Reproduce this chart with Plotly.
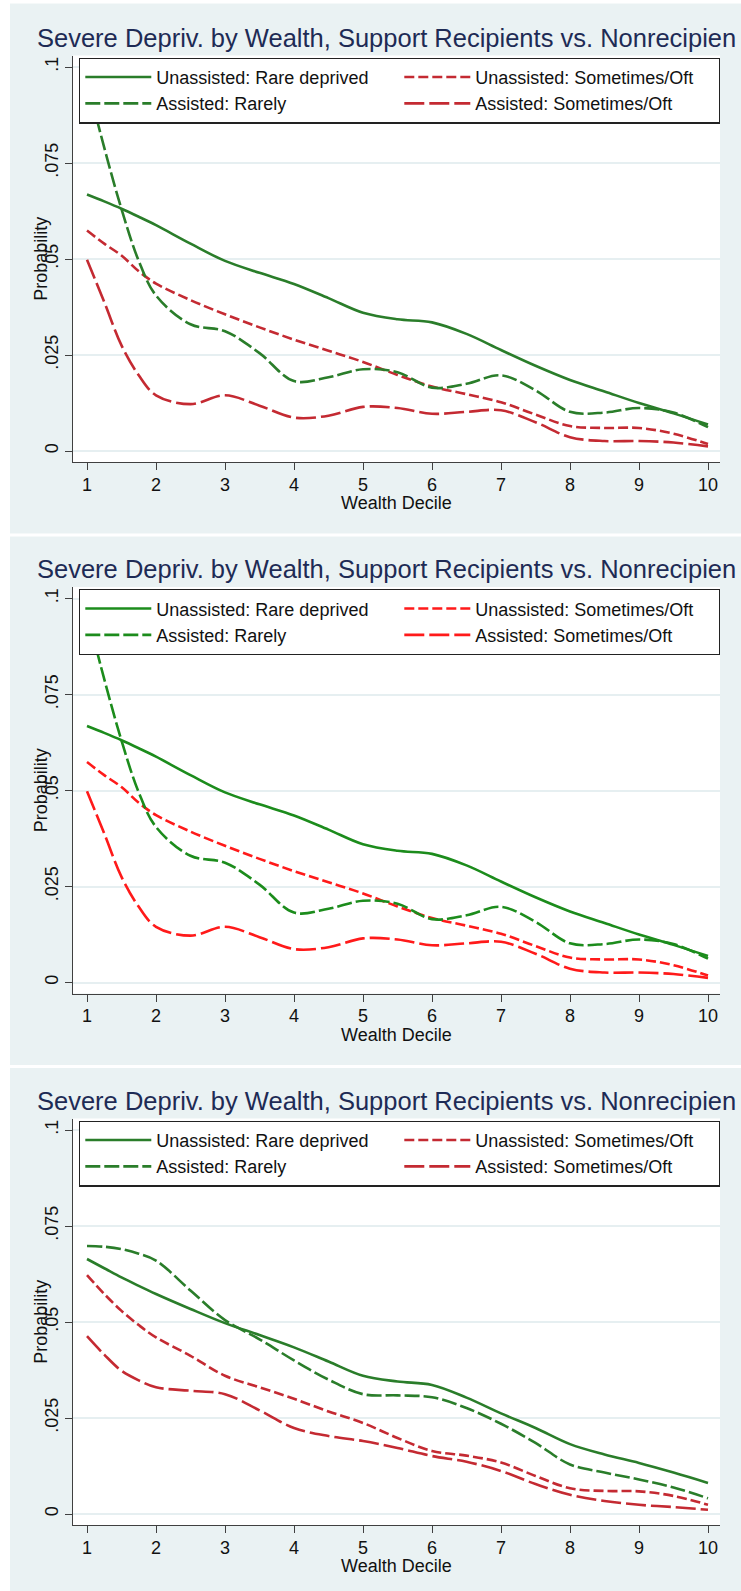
import plotly.graph_objects as go

W, H = 741, 1591

# ---------------- data ----------------
deciles = [1, 1.25, 1.5, 1.75, 2, 2.5, 3, 3.5, 4, 4.5, 5, 5.5, 6, 6.5, 7, 7.5, 8, 8.5, 9, 9.5, 10]
x_ticks = [1, 2, 3, 4, 5, 6, 7, 8, 9, 10]
y_ticks = [0, 0.025, 0.05, 0.075, 0.1]
y_tick_labels = ["0", ".025", ".05", ".075", ".1"]

series_names = ["Unassisted: Rare deprived", "Unassisted: Sometimes/Oft",
                "Assisted: Rarely", "Assisted: Sometimes/Oft"]

# panels 1 and 2 (same estimates)
p12_unassisted_rare = [0.0668, 0.0650, 0.0631, 0.0610, 0.0588, 0.0540, 0.0495, 0.0464, 0.0435, 0.0398,
                       0.0360, 0.0343, 0.0335, 0.0305, 0.0263, 0.0222, 0.0185, 0.0155, 0.0125, 0.0098, 0.0069]
p12_unassisted_some = [0.0574, 0.0540, 0.0509, 0.0468, 0.0436, 0.0393, 0.0356, 0.0322, 0.0290, 0.0261,
                       0.0232, 0.0198, 0.0168, 0.0148, 0.0127, 0.0095, 0.0065, 0.0060, 0.0060, 0.0045, 0.0018]
p12_assisted_rare = [0.0965, 0.0790, 0.0630, 0.0495, 0.0405, 0.0330, 0.0312, 0.0255, 0.0182, 0.0192,
                     0.0213, 0.0205, 0.0165, 0.0175, 0.0197, 0.0158, 0.0102, 0.0100, 0.0112, 0.0100, 0.0062]
p12_assisted_some = [0.0498, 0.0388, 0.0275, 0.0197, 0.0145, 0.0122, 0.0145, 0.0118, 0.0087, 0.0092,
                     0.0115, 0.0112, 0.0097, 0.0102, 0.0106, 0.0075, 0.0036, 0.0026, 0.0026, 0.0022, 0.0012]

# panel 3
p3_unassisted_rare = [0.0664, 0.0640, 0.0616, 0.0594, 0.0573, 0.0534, 0.0497, 0.0466, 0.0434, 0.0397,
                      0.0360, 0.0345, 0.0336, 0.0303, 0.0262, 0.0224, 0.0182, 0.0155, 0.0133, 0.0108, 0.0081]
p3_unassisted_some = [0.0622, 0.0573, 0.0529, 0.0492, 0.0460, 0.0412, 0.0360, 0.0330, 0.0300, 0.0267,
                      0.0237, 0.0198, 0.0164, 0.0152, 0.0134, 0.0099, 0.0067, 0.0060, 0.0059, 0.0047, 0.0024]
p3_assisted_rare = [0.0698, 0.0696, 0.0690, 0.0678, 0.0660, 0.0582, 0.0505, 0.0455, 0.0400, 0.0350,
                    0.0312, 0.0309, 0.0304, 0.0276, 0.0235, 0.0185, 0.0129, 0.0108, 0.0090, 0.0069, 0.0041]
p3_assisted_some = [0.0463, 0.0415, 0.0373, 0.0348, 0.0330, 0.0321, 0.0312, 0.0270, 0.0224, 0.0203,
                    0.0190, 0.0172, 0.0151, 0.0136, 0.0112, 0.0078, 0.0050, 0.0034, 0.0024, 0.0018, 0.0011]

title_text = "Severe Depriv. by Wealth, Support Recipients vs. Nonrecipien"
x_title = "Wealth Decile"
y_title = "Probability"

# ---------------- styling ----------------
FONT = "Liberation Sans, Arial, sans-serif"
BG = "#EAF2F3"
TITLE_COLOR = "#1E2B55"
palettes = [
    ("#2A7D2A", "#C42A32"),
    ("#1C8C1C", "#FF1A1A"),
    ("#2A7D2A", "#C42A32"),
]
panel_data = [
    (p12_unassisted_rare, p12_unassisted_some, p12_assisted_rare, p12_assisted_some),
    (p12_unassisted_rare, p12_unassisted_some, p12_assisted_rare, p12_assisted_some),
    (p3_unassisted_rare, p3_unassisted_some, p3_assisted_rare, p3_assisted_some),
]
dashes = ["solid", "10px,4px", "15px,4px", "20px,5px"]

OFFSET = 531.5          # vertical pixel offset between panels
PLOT_L, PLOT_R = 73, 720
TOP0, BOT0 = 55.5, 462  # panel 1 plot area (pixels from top)
ZERO0 = 451             # pixel of y=0 in panel 1
PX_PER_UNIT = 3840.0

def fy(px):
    return 1 - px / H

fig = go.Figure()
annotations = []
shapes = []
layout = {}

for p in range(3):
    off = p * OFFSET
    green, red = palettes[p]
    colors = [green, red, green, red]
    xa = "x" if p == 0 else f"x{p+1}"
    ya = "y" if p == 0 else f"y{p+1}"
    lg = "legend" if p == 0 else f"legend{p+1}"
    for s in range(4):
        fig.add_trace(go.Scatter(
            x=deciles, y=panel_data[p][s], mode="lines", name=series_names[s],
            line=dict(color=colors[s], width=2.6, dash=dashes[s], shape="spline", smoothing=1.0),
            xaxis=xa, yaxis=ya, legend=lg, hoverinfo="skip"))

    top, bot = TOP0 + off, BOT0 + off
    zero = ZERO0 + off
    y_lo = -(bot - zero) / PX_PER_UNIT
    y_hi = (zero - top) / PX_PER_UNIT
    kx = "xaxis" if p == 0 else f"xaxis{p+1}"
    ky = "yaxis" if p == 0 else f"yaxis{p+1}"
    layout[kx] = dict(domain=[PLOT_L / W, PLOT_R / W], anchor=ya,
                      range=[1 - 14 / 69, 10 + 12 / 69], tickvals=x_ticks,
                      ticks="outside", ticklen=7, tickwidth=1.2, tickcolor="#404040",
                      showline=True, linecolor="#404040", linewidth=1.3,
                      showgrid=False, zeroline=False, ticklabelstandoff=-1,
                      tickfont=dict(size=18, color="#111", family=FONT), fixedrange=True)
    layout[ky] = dict(domain=[fy(bot), fy(top)], anchor=xa,
                      range=[y_lo, y_hi], tickvals=y_ticks, ticktext=y_tick_labels,
                      tickangle=-90, ticks="outside", ticklen=7, tickwidth=1.2, tickcolor="#404040",
                      showline=True, linecolor="#404040", linewidth=1.3,
                      showgrid=True, gridcolor="#E6EFF1", gridwidth=1.5, zeroline=False,
                      ticklabelstandoff=0,
                      tickfont=dict(size=18, color="#111", family=FONT), fixedrange=True)
    layout[lg] = dict(x=79 / W, y=fy(57.5 + off), xanchor="left", yanchor="top",
                      orientation="h", bgcolor="white", bordercolor="#222", borderwidth=1.3,
                      font=dict(size=18, color="#111", family=FONT),
                      entrywidth=238, entrywidthmode="pixels", itemwidth=66,
                      traceorder="normal", tracegroupgap=0)

    # panel title
    annotations.append(dict(text=title_text, xref="paper", yref="paper",
                            x=35 / W, y=fy(38 + off), xanchor="left", yanchor="middle",
                            showarrow=False, font=dict(size=25.5, color=TITLE_COLOR, family=FONT)))
    # axis titles
    annotations.append(dict(text=y_title, xref="paper", yref="paper",
                            x=41 / W, y=fy((top + bot) / 2), xanchor="center", yanchor="middle",
                            textangle=-90, showarrow=False,
                            font=dict(size=18, color="#111", family=FONT)))
    annotations.append(dict(text=x_title, xref="paper", yref="paper",
                            x=(PLOT_L + PLOT_R) / 2 / W, y=fy(bot + 41), xanchor="center",
                            yanchor="middle", showarrow=False,
                            font=dict(size=18, color="#111", family=FONT)))

# white margins / separators between the panel backgrounds
for (x0, x1, y0, y1) in [(0, 10, 0, H), (0, W, 0, 3.5), (0, W, 533.5, 536.5), (0, W, 1065, 1068)]:
    shapes.append(dict(type="rect", xref="paper", yref="paper", x0=x0 / W, x1=x1 / W,
                       y0=fy(y1), y1=fy(y0), fillcolor="white", line=dict(width=0), layer="below"))

fig.update_layout(
    width=W, height=H, margin=dict(l=0, r=0, t=0, b=0),
    paper_bgcolor=BG, plot_bgcolor="white",
    font=dict(family=FONT, color="#111"),
    annotations=annotations, shapes=shapes, **layout)

fig.write_html("out.html", config={"responsive": False, "displayModeBar": False},
               post_script="document.documentElement.style.margin='0';"
                           "document.body.style.margin='0';"
                           "document.body.style.overflow='hidden';")
